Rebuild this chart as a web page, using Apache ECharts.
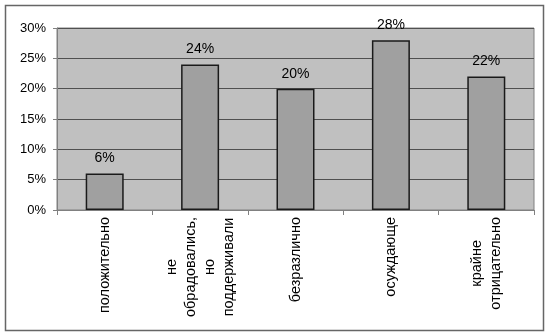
<!DOCTYPE html>
<html>
<head>
<meta charset="utf-8">
<script src="https://cdn.jsdelivr.net/npm/echarts@6/dist/echarts.min.js"></script>
<style>
  html, body { margin: 0; padding: 0; background: #fff; }
  #chart { width: 551px; height: 336px; }
</style>
</head>
<body>
<div id="chart"></div>
<script>
// категории и значения (в процентах)
const categories = [
  'положительно',
  'не\nобрадовались,\nно\nподдерживали',
  'безразлично',
  'осуждающе',
  'крайне\nотрицательно'
]
const values = [6, 24, 20, 28, 22]

const font = '"Liberation Sans", Arial, sans-serif'

const chart = echarts.init(document.getElementById('chart'))

chart.setOption({
  animation: false,
  textStyle: { fontFamily: font },
  graphic: [{
    type: 'rect',
    shape: { x: 5.5, y: 5.5, width: 538, height: 325 },
    style: { fill: 'none', stroke: '#666', lineWidth: 1.5 },
    silent: true
  }],
  grid: {
    left: 57,
    top: 28,
    right: 17,
    bottom: 126,
    show: true,
    backgroundColor: '#c0c0c0',
    borderColor: '#808080',
    borderWidth: 1
  },
  xAxis: {
    type: 'category',
    data: categories,
    axisLine: { lineStyle: { color: '#808080' } },
    axisTick: { show: true, length: 5, lineStyle: { color: '#808080' } },
    axisLabel: {
      rotate: 90,
      margin: 7,
      interval: 0,
      color: '#000',
      fontSize: 14.5,
      fontFamily: font,
      lineHeight: 19,
      formatter: v => v.split('\n').map(s => '{c|' + s + '}').join('\n'),
      rich: {
        c: { align: 'center', fontSize: 14.5, fontFamily: font, color: '#000', lineHeight: 19 }
      }
    }
  },
  yAxis: {
    type: 'value',
    min: 0,
    max: 30,
    interval: 5,
    axisLine: { show: true, lineStyle: { color: '#808080' } },
    axisTick: { show: true, length: 4, lineStyle: { color: '#808080' } },
    axisLabel: {
      formatter: '{value}%',
      color: '#000',
      fontSize: 13,
      fontFamily: font,
      margin: 11
    },
    splitLine: { lineStyle: { color: '#505050', width: 1 } }
  },
  series: [{
    type: 'bar',
    data: values,
    barWidth: 38,
    itemStyle: {
      color: '#a0a0a0',
      borderColor: '#1a1a1a',
      borderWidth: 1.5
    },
    label: {
      show: true,
      position: 'top',
      distance: 8,
      formatter: p => p.value + '%',
      color: '#000',
      fontSize: 14,
      fontFamily: font
    }
  }]
})
</script>
</body>
</html>
